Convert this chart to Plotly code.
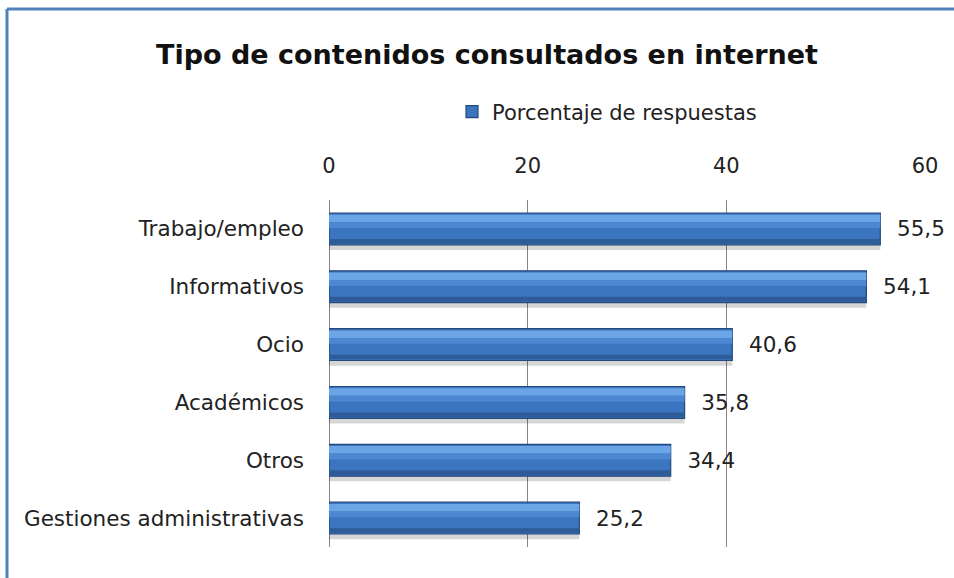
import plotly.graph_objects as go

categories = ["Trabajo/empleo", "Informativos", "Ocio", "Académicos", "Otros", "Gestiones administrativas"]
values = [55.5, 54.1, 40.6, 35.8, 34.4, 25.2]
series_name = "Porcentaje de respuestas"
x_ticks = [0, 20, 40, 60]

FONT = "DejaVu Sans"
FS = 21.5
W, H = 954, 578
L, R, T, B = 329, 29, 200, 31
pw, ph = W - L - R, H - T - B
BW = 0.55  # bar thickness in category units

fig = go.Figure()
# soft shadow under bars
fig.add_trace(go.Bar(
    y=categories, x=values, orientation="h", showlegend=False, hoverinfo="skip",
    width=BW, offset=-BW / 2 + 0.09, marker=dict(color="rgba(0,0,0,0.16)", line=dict(width=0)),
))
# main bar
fig.add_trace(go.Bar(
    y=categories, x=values, orientation="h", name=series_name,
    width=BW, offset=-BW / 2,
    marker=dict(color="#3B74BF", line=dict(color="#26487A", width=1.2)),
    texttemplate="  %{x:.1f}", textposition="outside", cliponaxis=False,
    textfont=dict(family=FONT, size=FS, color="#222222"),
))
# top highlight
fig.add_trace(go.Bar(
    y=categories, x=values, orientation="h", showlegend=False, hoverinfo="skip",
    width=0.13, offset=-BW / 2 + 0.03, marker=dict(color="#6BA5E6", line=dict(width=0)),
))
fig.add_trace(go.Bar(
    y=categories, x=values, orientation="h", showlegend=False, hoverinfo="skip",
    width=0.1, offset=-BW / 2 + 0.16, marker=dict(color="#4C88D2", line=dict(width=0)),
))
# bottom darker band
fig.add_trace(go.Bar(
    y=categories, x=values, orientation="h", showlegend=False, hoverinfo="skip",
    width=0.08, offset=BW / 2 - 0.1, marker=dict(color="#2E5C98", line=dict(width=0)),
))

# chart frame lines (top and left), positioned in paper coordinates
fig.add_shape(type="line", xref="paper", yref="paper",
              x0=(7 - L) / pw, x1=(W - L) / pw, y0=1 + (T - 9) / ph, y1=1 + (T - 9) / ph,
              line=dict(color="#4F81BD", width=3))
fig.add_shape(type="line", xref="paper", yref="paper",
              x0=(7 - L) / pw, x1=(7 - L) / pw, y0=1 + (T - 9) / ph, y1=-(B) / ph,
              line=dict(color="#4F81BD", width=3))

fig.update_layout(
    width=W, height=H,
    margin=dict(l=L, r=R, t=T, b=B),
    paper_bgcolor="white", plot_bgcolor="white",
    separators=", ",
    barmode="overlay",
    font=dict(family=FONT, size=FS, color="#222222"),
    title=dict(text="<b>Tipo de contenidos consultados en internet</b>",
               x=487 / W, xanchor="center", y=1 - 55 / H, yanchor="middle",
               font=dict(family=FONT, size=27, color="#111111")),
    legend=dict(orientation="h", x=(607 - L) / pw, xanchor="center",
                y=1 + (T - 112) / ph, yanchor="middle",
                font=dict(family=FONT, size=21, color="#222222")),
    xaxis=dict(side="top", range=[0, 60], tickvals=x_ticks, showgrid=True,
               gridcolor="#868686", gridwidth=1, zeroline=True, zerolinecolor="#868686",
               zerolinewidth=1, ticks="", ticklabelstandoff=22,
               tickfont=dict(family=FONT, size=21, color="#222222")),
    yaxis=dict(autorange="reversed", showgrid=False, ticks="", ticklabelstandoff=24,
               tickfont=dict(family=FONT, size=FS, color="#222222")),
)

fig.write_html("out.html", config={"displayModeBar": False},
               post_script="document.body.style.margin='0';")
